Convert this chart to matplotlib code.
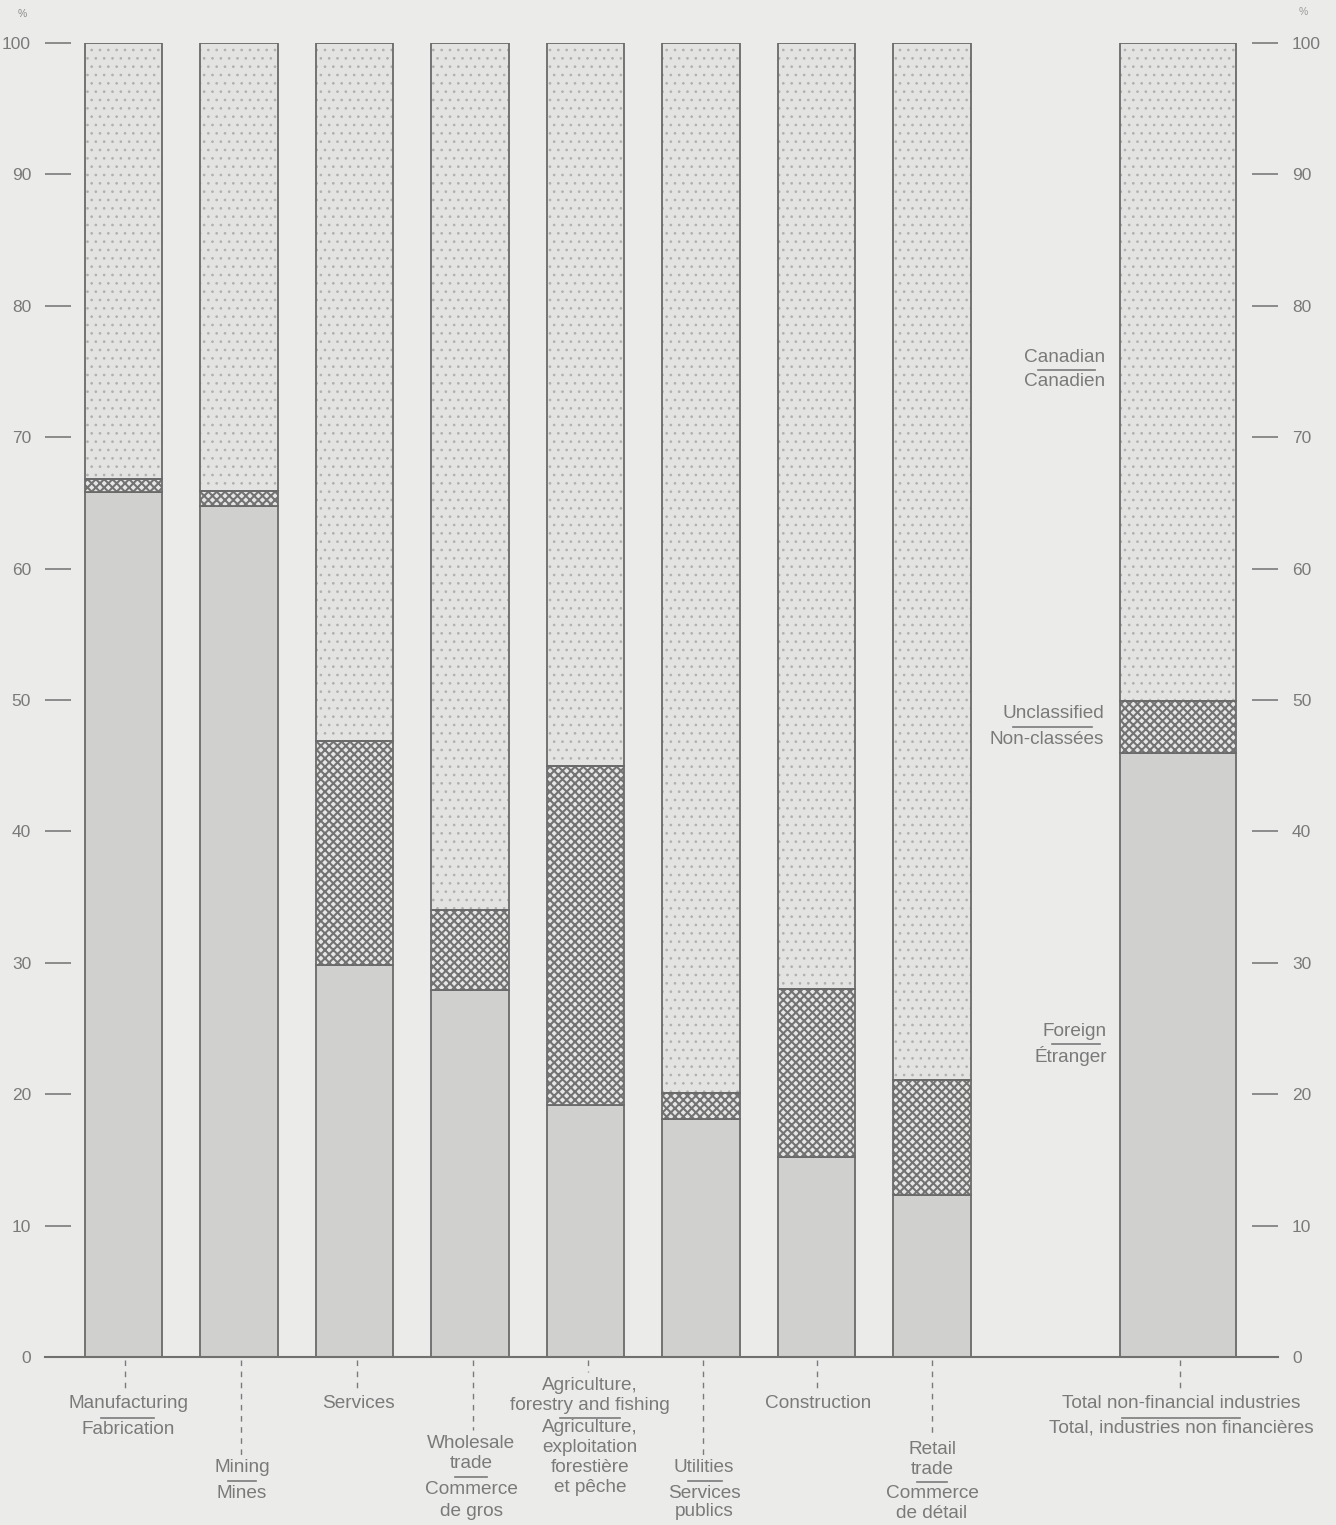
import matplotlib
matplotlib.use("Agg")
import matplotlib.pyplot as plt
from matplotlib.lines import Line2D
import numpy as np

plt.rcParams['font.family'] = ['Liberation Sans', 'DejaVu Sans']

# ---------------- data ----------------
categories = ["Manufacturing", "Mining", "Services", "Wholesale trade",
              "Agriculture, forestry and fishing", "Utilities", "Construction",
              "Retail trade", "Total non-financial industries"]
foreign = [65.8, 64.8, 29.8, 27.9, 19.2, 18.1, 15.2, 12.3, 46.0]
unclassified = [1.0, 1.1, 17.1, 6.1, 25.8, 2.0, 12.8, 8.8, 3.9]
canadian = [100 - f - u for f, u in zip(foreign, unclassified)]
yticks = [0, 10, 20, 30, 40, 50, 60, 70, 80, 90, 100]

W, H = 1336, 1525
fig = plt.figure(figsize=(W / 100, H / 100), dpi=100)
bg = "#ebecea"
fig.patch.set_facecolor(bg)

def fx(px):
    return px / W

def fy(py):
    return 1 - py / H

ax_left, ax_right, ax_top, ax_bot = 45, 1278, 43, 1357
ax = fig.add_axes([fx(ax_left), fy(ax_bot), fx(ax_right - ax_left), (ax_bot - ax_top) / H])
ax.set_facecolor(bg)

positions = [0, 1, 2, 3, 4, 5, 6, 7, 9.13]
widths = [0.667] * 8 + [1.0]
step = 115.5
ax.set_xlim((ax_left - 123.5) / step, (ax_right - 123.5) / step)
ax.set_ylim(0, 100)

edge = "#6a6a6a"
# foreign
ax.bar(positions, foreign, width=widths, color="#d0d1ce", edgecolor=edge, linewidth=1.3, zorder=2)
# unclassified
plt.rcParams['hatch.linewidth'] = 1.5
ax.bar(positions, unclassified, bottom=foreign, width=widths, color="#e6e7e4",
       edgecolor="#737373", hatch="xxxx", linewidth=0, zorder=2)
ax.bar(positions, unclassified, bottom=foreign, width=widths, fill=False,
       edgecolor=edge, linewidth=1.3, zorder=3)
# canadian
bottoms_c = [f + u for f, u in zip(foreign, unclassified)]
plt.rcParams['hatch.linewidth'] = 0.7
ax.bar(positions, canadian, bottom=bottoms_c, width=widths, color="#e3e4e1",
       edgecolor="#b0b1ae", hatch="..", linewidth=0, zorder=2)
ax.bar(positions, canadian, bottom=bottoms_c, width=widths, fill=False,
       edgecolor=edge, linewidth=1.3, zorder=3)

for s in ["left", "right", "top"]:
    ax.spines[s].set_visible(False)
ax.spines["bottom"].set_color("#707070")
ax.spines["bottom"].set_linewidth(1.5)
ax.set_xticks([])

txtc = "#7a7a7a"
ax.set_yticks(yticks)
ax.set_yticklabels([str(v) for v in yticks])
ax.tick_params(axis="y", which="both", direction="in", length=19, width=1.2,
               color="#7a7a7a", labelsize=12.5, labelcolor=txtc, pad=10,
               left=True, right=True, labelleft=True, labelright=True)

fig.text(fx(22), fy(14), "%", fontsize=7.5, color="#8a8a8a", ha="center", va="center")
fig.text(fx(1303), fy(12), "%", fontsize=7.5, color="#9a9a9a", ha="center", va="center")

fs = 13.7

def label(xc, y, s):
    fig.text(fx(xc), fy(y), s, fontsize=fs, color=txtc, ha="center", va="center")

def sep(x0, x1, y):
    fig.add_artist(Line2D([fx(x0), fx(x1)], [fy(y), fy(y)], color="#7a7a7a", lw=1.2))

def dash(xc, y0, y1):
    fig.add_artist(Line2D([fx(xc), fx(xc)], [fy(y0), fy(y1)], color="#7a7a7a", lw=1.0,
                          linestyle=(0, (4, 4))))

# category label blocks
dash(125, 1360, 1392)
label(128, 1404, "Manufacturing"); sep(101, 154, 1418); label(128, 1429, "Fabrication")

dash(241, 1360, 1455)
label(242, 1468, "Mining"); sep(228, 256, 1481); label(242, 1493, "Mines")

dash(357, 1360, 1392)
label(358, 1404, "Services")

dash(473, 1360, 1430)
label(471, 1443, "Wholesale"); label(471, 1464, "trade"); sep(455, 487, 1477)
label(471, 1489, "Commerce"); label(471, 1512, "de gros")

dash(588, 1360, 1372)
label(590, 1385, "Agriculture,"); label(590, 1405, "forestry and fishing")
sep(560, 620, 1418)
label(590, 1428, "Agriculture,"); label(590, 1448, "exploitation")
label(590, 1468, "forestière"); label(590, 1488, "et pêche")

dash(703, 1360, 1455)
label(704, 1468, "Utilities"); sep(688, 722, 1481)
label(704, 1493, "Services"); label(704, 1512, "publics")

dash(817, 1360, 1390)
label(818, 1404, "Construction")

dash(932, 1360, 1437)
label(932, 1449, "Retail"); label(932, 1470, "trade"); sep(917, 947, 1482)
label(932, 1494, "Commerce"); label(932, 1514, "de détail")

dash(1180, 1360, 1390)
label(1181, 1404, "Total non-financial industries"); sep(1122, 1240, 1418)
label(1181, 1428, "Total, industries non financières")

# legend-like labels
def leg(xr, y1, s1, s2, x0, x1):
    fig.text(fx(xr), fy(y1), s1, fontsize=fs, color=txtc, ha="right", va="center")
    sep(x0, x1, y1 + 13)
    fig.text(fx(xr), fy(y1 + 25), s2, fontsize=fs, color=txtc, ha="right", va="center")

leg(1105, 357, "Canadian", "Canadien", 1038, 1095)
leg(1104, 714, "Unclassified", "Non-classées", 1013, 1092)
leg(1107, 1031, "Foreign", "Étranger", 1052, 1100)

fig.savefig("out.png", dpi=100, facecolor=bg)
